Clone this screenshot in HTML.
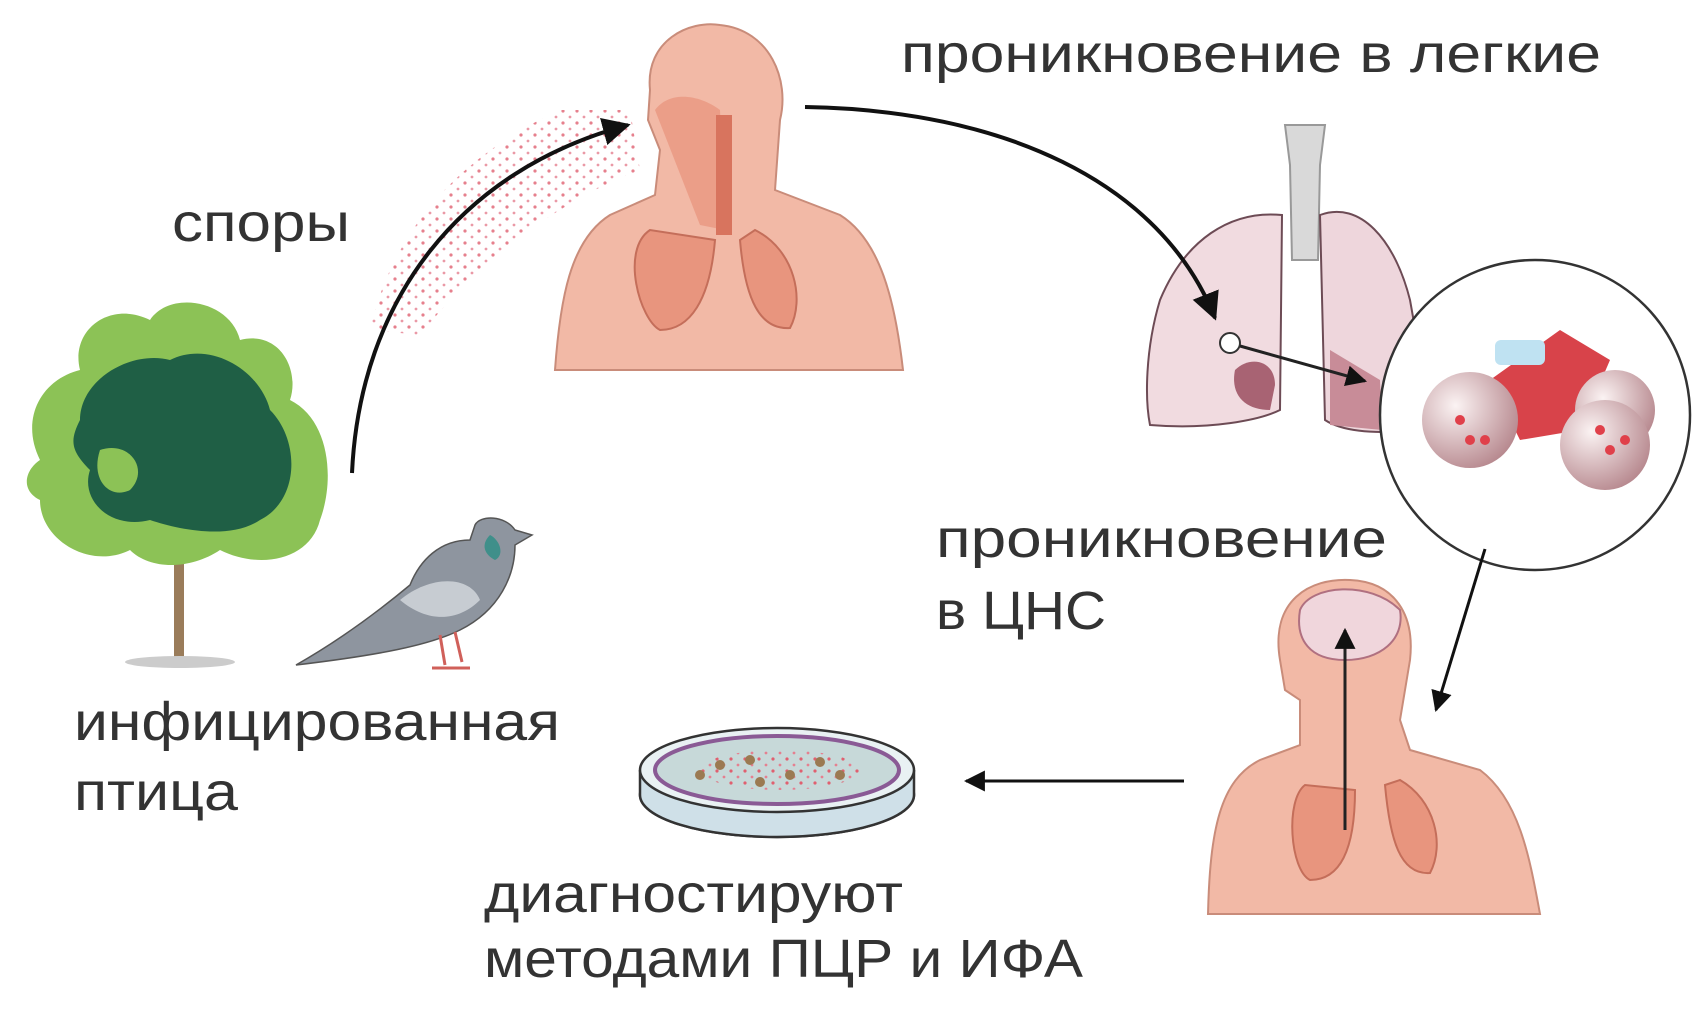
<!DOCTYPE html>
<html><head><meta charset="utf-8"><style>
html,body{margin:0;padding:0;background:#fff;width:1706px;height:1024px;overflow:hidden}
svg text{font-family:"Liberation Sans","DejaVu Sans",sans-serif;fill:#333}
</style></head><body>
<svg width="1706" height="1024" viewBox="0 0 1706 1024" xmlns="http://www.w3.org/2000/svg">
<defs>
<marker id="ah" viewBox="0 0 10 10" refX="9" refY="5" markerWidth="7" markerHeight="7" orient="auto"><path d="M0,0 L10,5 L0,10 z" fill="#111"/></marker>
<pattern id="sp" width="14" height="12" patternUnits="userSpaceOnUse"><circle cx="3" cy="3" r="1.6" fill="#e06070"/><circle cx="10" cy="9" r="1.4" fill="#e58090"/></pattern>
<radialGradient id="alv" cx="35%" cy="35%" r="70%"><stop offset="0" stop-color="#fbf3f3"/><stop offset="1" stop-color="#b88a90"/></radialGradient>
</defs>

<!-- spores cloud -->
<path d="M370,330 C390,240 450,160 560,110 L630,110 L640,170 C560,200 480,260 420,335 Z" fill="url(#sp)" opacity="0.8"/>

<!-- person 1 -->
<g>
<path d="M555,370 C560,300 570,240 610,215 L655,195 L660,150 L648,120 L650,90 C645,40 690,20 720,25 C770,30 790,80 780,120 L775,190 L840,215 C880,240 895,300 903,370 Z" fill="#f2b9a6" stroke="#c98c7a" stroke-width="2"/>
<path d="M655,110 C670,90 700,95 720,110 L725,230 L700,225 Z" fill="#e8937c" opacity="0.7"/>
<path d="M650,230 C620,250 640,320 660,330 C690,330 710,300 715,240 Z" fill="#e8957e" stroke="#c46e5a" stroke-width="2"/>
<path d="M740,240 C745,300 760,330 790,328 C805,300 795,250 755,230 Z" fill="#e8957e" stroke="#c46e5a" stroke-width="2"/>
<rect x="716" y="115" width="16" height="120" fill="#d8745e"/>
</g>

<!-- lungs -->
<g>
<path d="M1285,125 L1325,125 L1320,165 L1318,260 L1292,260 L1290,165 Z" fill="#d9d9d9" stroke="#999" stroke-width="2"/>
<path d="M1282,215 C1230,210 1185,240 1160,300 C1145,350 1145,400 1150,425 C1210,430 1260,420 1280,410 Z" fill="#f1dbe0" stroke="#6d4b55" stroke-width="2"/>
<path d="M1235,370 C1250,355 1275,360 1275,385 L1270,410 C1245,410 1230,395 1235,370 Z" fill="#a86373"/>
<path d="M1320,215 C1360,200 1395,240 1410,300 C1420,350 1420,400 1415,430 C1370,435 1340,430 1325,420 Z" fill="#eed6dc" stroke="#6d4b55" stroke-width="2"/>
<path d="M1330,350 L1380,380 L1382,430 L1330,425 Z" fill="#c88c98"/>
<circle cx="1230" cy="343" r="10" fill="#fff" stroke="#333" stroke-width="2"/>
</g>
<!-- zoom circle -->
<circle cx="1535" cy="415" r="155" fill="#fff" stroke="#333" stroke-width="2.5"/>
<path d="M1490,380 L1560,330 L1610,360 L1580,430 L1520,440 Z" fill="#d8434a"/>
<rect x="1495" y="340" width="50" height="25" rx="6" fill="#bfe2f2"/>
<circle cx="1470" cy="420" r="48" fill="url(#alv)"/>
<circle cx="1615" cy="410" r="40" fill="url(#alv)"/>
<circle cx="1605" cy="445" r="45" fill="url(#alv)"/>
<g fill="#e0404a"><circle cx="1460" cy="420" r="5"/><circle cx="1470" cy="440" r="5"/><circle cx="1485" cy="440" r="5"/><circle cx="1600" cy="430" r="5"/><circle cx="1610" cy="450" r="5"/><circle cx="1625" cy="440" r="5"/></g>

<!-- tree -->
<rect x="174" y="520" width="10" height="140" fill="#9a7c5a"/>
<ellipse cx="180" cy="662" rx="55" ry="6" fill="#ccc"/>
<path d="M40,460 C20,420 40,380 80,370 C70,330 110,300 150,320 C170,290 230,300 240,340 C280,330 300,370 290,400 C330,420 335,480 320,520 C310,560 260,570 220,550 C190,570 150,570 130,550 C90,570 40,540 40,500 C20,490 25,470 40,460 Z" fill="#8cc256"/>
<path d="M80,420 C80,380 130,350 170,360 C210,340 260,370 270,410 C300,440 300,500 260,520 C230,540 180,530 150,520 C110,530 80,500 90,470 C70,450 70,440 80,420 Z" fill="#1f5f45"/>
<path d="M100,450 C130,440 150,470 130,490 C110,500 90,480 100,450 Z" fill="#8cc256"/>

<!-- pigeon -->
<path d="M296,665 C340,640 380,610 410,585 C420,560 440,540 470,540 L475,525 C480,515 505,515 515,530 L532,535 L515,545 C515,575 500,610 460,630 C430,645 380,655 296,665 Z" fill="#8e959f" stroke="#555" stroke-width="1.5"/>
<path d="M490,535 C500,540 505,555 495,560 C485,555 480,545 490,535 Z" fill="#3f8f8a"/>
<path d="M400,600 C430,575 470,575 480,600 C460,620 430,625 400,600 Z" fill="#c7ccd2"/>
<path d="M440,635 L445,665 M455,632 L462,662 M432,668 L470,668" stroke="#d0605a" stroke-width="3"/>

<!-- petri dish -->
<ellipse cx="777" cy="795" rx="137" ry="42" fill="#dbe8ee" stroke="#333" stroke-width="2.5"/>
<path d="M640,770 L640,795 A137,42 0 0 0 914,795 L914,770" fill="#cfe0e8" stroke="#333" stroke-width="2.5"/>
<ellipse cx="777" cy="770" rx="137" ry="42" fill="#e9f1f3" stroke="#333" stroke-width="2.5"/>
<ellipse cx="777" cy="770" rx="122" ry="34" fill="#c7d9d9" stroke="#8a5a95" stroke-width="4"/>
<ellipse cx="780" cy="770" rx="80" ry="20" fill="url(#sp)"/>
<g fill="#9b7a52"><circle cx="720" cy="765" r="5"/><circle cx="750" cy="760" r="5"/><circle cx="790" cy="775" r="5"/><circle cx="820" cy="762" r="5"/><circle cx="760" cy="782" r="5"/><circle cx="840" cy="775" r="5"/><circle cx="700" cy="775" r="5"/></g>

<!-- person 2 -->
<path d="M1208,914 C1210,830 1220,780 1260,760 L1300,745 L1300,700 L1285,690 L1280,660 C1270,600 1310,578 1350,580 C1395,582 1415,615 1410,660 L1400,720 L1410,750 L1480,770 C1520,800 1530,860 1540,914 Z" fill="#f2b9a6" stroke="#c98c7a" stroke-width="2"/>
<path d="M1300,610 C1310,585 1370,580 1400,610 C1405,640 1380,660 1345,660 C1310,660 1295,640 1300,610 Z" fill="#f0d6dc" stroke="#b07080" stroke-width="2"/>
<path d="M1305,785 C1285,800 1290,870 1310,880 C1340,880 1355,850 1355,790 Z" fill="#e8957e" stroke="#c46e5a" stroke-width="2"/>
<path d="M1385,785 C1390,840 1400,875 1430,873 C1445,845 1435,800 1400,780 Z" fill="#e8957e" stroke="#c46e5a" stroke-width="2"/>
<path d="M1345,830 L1345,630" stroke="#222" stroke-width="3" marker-end="url(#ah)"/>

<!-- arrows -->
<g fill="none" stroke="#111" stroke-width="4">
<path d="M352,473 C360,300 460,170 628,125" marker-end="url(#ah)"/>
<path d="M805,107 C1000,110 1160,180 1215,318" marker-end="url(#ah)"/>
<path d="M1485,549 L1436,710" stroke-width="3" marker-end="url(#ah)"/>
<path d="M1184,781 L966,781" stroke-width="3" marker-end="url(#ah)"/>
</g>
<path d="M1240,346 L1365,381" stroke="#222" stroke-width="3" marker-end="url(#ah)"/>

<!-- labels -->
<text x="901" y="72" font-size="54" textLength="700" lengthAdjust="spacingAndGlyphs">проникновение в легкие</text>
<text x="172" y="241" font-size="54" textLength="178" lengthAdjust="spacingAndGlyphs">споры</text>
<text x="74" y="740" font-size="54" textLength="486" lengthAdjust="spacingAndGlyphs">инфицированная</text>
<text x="74" y="810" font-size="54" textLength="164" lengthAdjust="spacingAndGlyphs">птица</text>
<text x="936" y="557" font-size="54" textLength="451" lengthAdjust="spacingAndGlyphs">проникновение</text>
<text x="936" y="629" font-size="54" textLength="170" lengthAdjust="spacingAndGlyphs">в ЦНС</text>
<text x="484" y="912" font-size="54" textLength="419" lengthAdjust="spacingAndGlyphs">диагностируют</text>
<text x="484" y="977" font-size="54" textLength="599" lengthAdjust="spacingAndGlyphs">методами ПЦР и ИФА</text>
</svg>
</body></html>
